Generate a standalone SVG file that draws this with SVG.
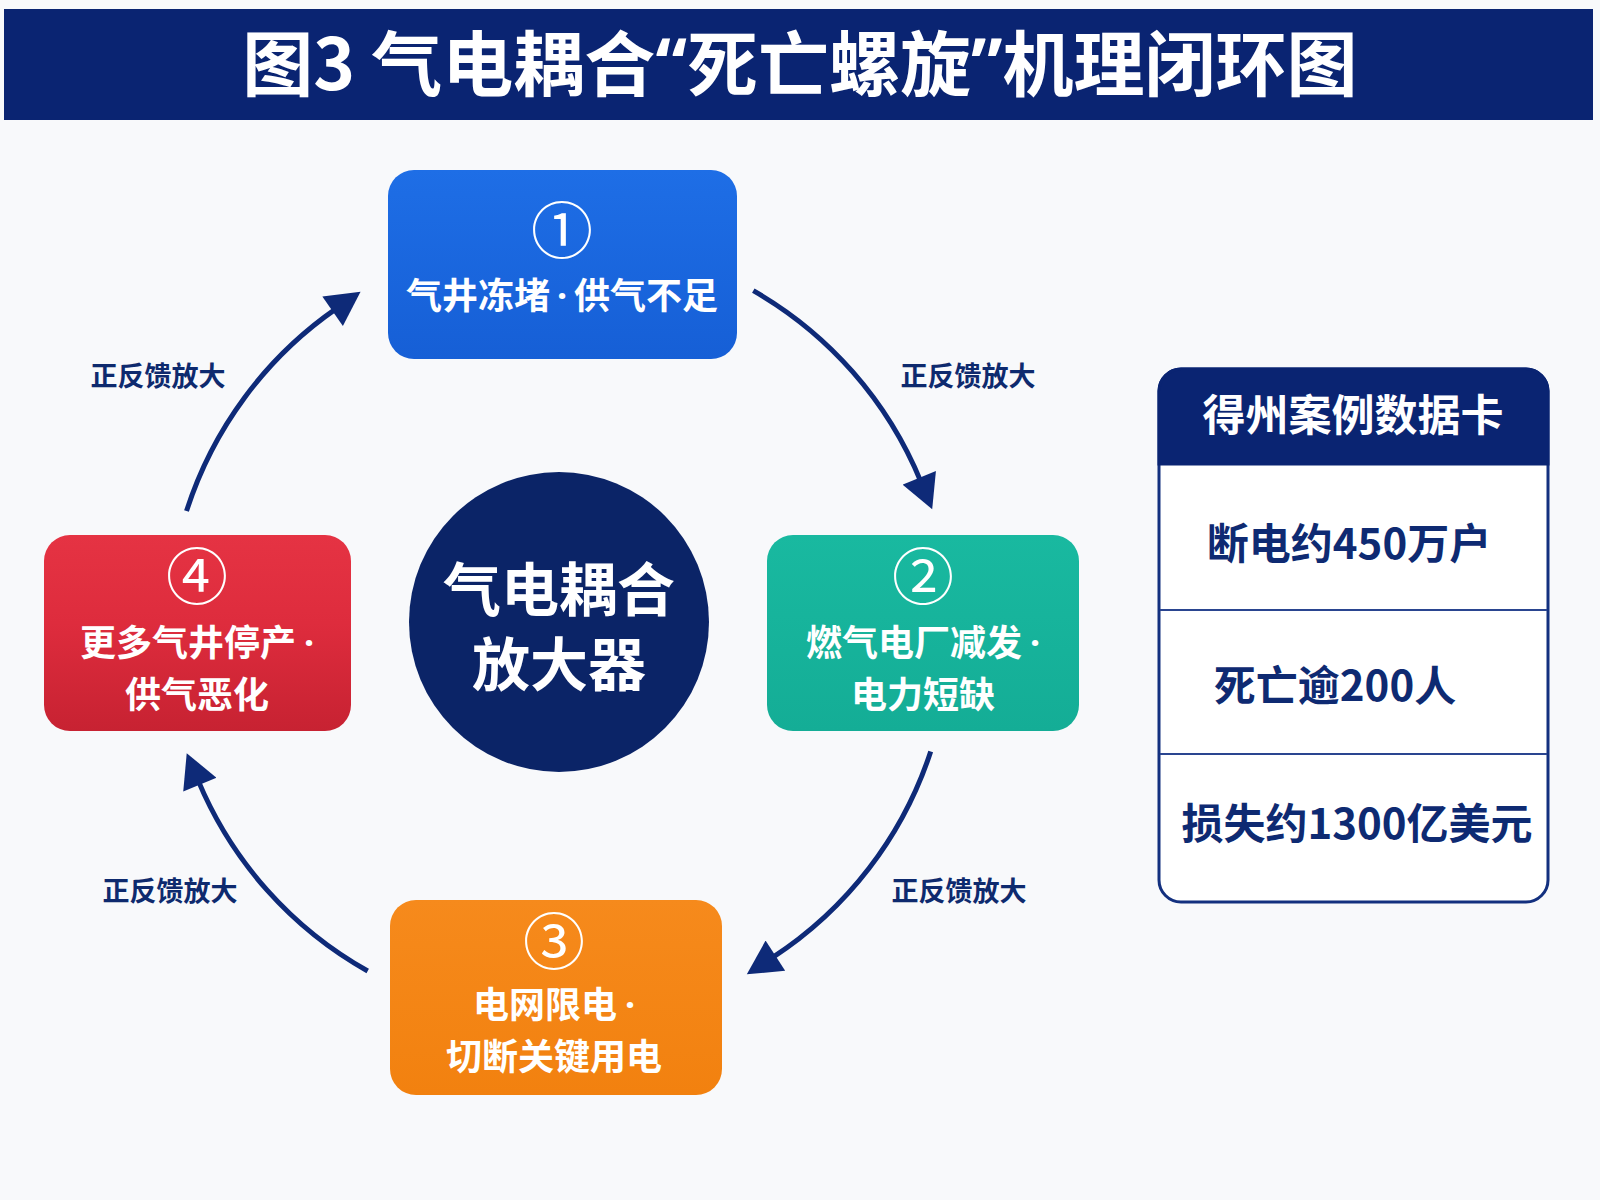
<svg xmlns="http://www.w3.org/2000/svg" width="1600" height="1200" viewBox="0 0 1600 1200">
<defs>
<style>
.cjk{font-family:"Noto Sans CJK SC","Noto Sans",sans-serif;}
.b{font-weight:700;}
.w{fill:#ffffff;}
.lat{font-family:"Noto Sans",sans-serif;}
.nodeText{font-family:"Noto Sans CJK SC","Noto Sans",sans-serif;font-weight:700;font-size:36px;fill:#ffffff;text-anchor:middle;}
.num{font-family:"Noto Sans CJK SC","Noto Sans",sans-serif;font-weight:400;font-size:62px;fill:#ffffff;text-anchor:middle;}
.lbl{font-family:"Noto Sans CJK SC","Noto Sans",sans-serif;font-weight:700;font-size:27px;fill:#0e2a6e;text-anchor:middle;}
.card{font-family:"Noto Sans CJK SC","Noto Sans",sans-serif;font-weight:700;font-size:42px;fill:#0e2a72;text-anchor:middle;}
.arc{fill:none;stroke:#0e2a78;stroke-width:5;stroke-linecap:butt;}
</style>
<linearGradient id="gBlue" x1="0" y1="0" x2="0" y2="1"><stop offset="0" stop-color="#1e6ee6"/><stop offset="1" stop-color="#165fd6"/></linearGradient>
<linearGradient id="gTeal" x1="0" y1="0" x2="0" y2="1"><stop offset="0" stop-color="#19b9a0"/><stop offset="1" stop-color="#14ad96"/></linearGradient>
<linearGradient id="gOrange" x1="0" y1="0" x2="0" y2="1"><stop offset="0" stop-color="#f68a1c"/><stop offset="1" stop-color="#f2810f"/></linearGradient>
<linearGradient id="gRed" x1="0" y1="0" x2="0" y2="1"><stop offset="0" stop-color="#e53343"/><stop offset="0.45" stop-color="#de2c3d"/><stop offset="1" stop-color="#c72232"/></linearGradient>
<marker id="ah" markerUnits="userSpaceOnUse" markerWidth="36" markerHeight="36" refX="4" refY="18" orient="auto" viewBox="0 0 34 36">
<path d="M0,0 L34,18 L0,36 Z" fill="#0e2a78"/>
</marker>
</defs>
<rect x="0" y="0" width="1600" height="1200" fill="#f8f9fb"/>
<g id="title">
<rect x="4" y="9" width="1589" height="111" fill="#0a2472"/>
<text x="800" y="90" class="cjk b w" font-size="71" text-anchor="middle">图3 气电耦合<tspan class="lat">“</tspan>死亡螺旋<tspan class="lat">”</tspan>机理闭环图</text>
</g>
<g id="connectors">
<path class="arc" d="M753.3,290.7 A391,391 0 0 1 920.8,481.6" marker-end="url(#ah)"/>
<path class="arc" d="M930.7,751.5 A391,391 0 0 1 772.0,957.9" marker-end="url(#ah)"/>
<path class="arc" d="M367.7,971.0 A391,391 0 0 1 198.3,780.9" marker-end="url(#ah)"/>
<path class="arc" d="M186.5,511.1 A391,391 0 0 1 335.9,308.9" marker-end="url(#ah)"/>
<text class="lbl" x="158" y="386">正反馈放大</text>
<text class="lbl" x="968" y="386">正反馈放大</text>
<text class="lbl" x="959" y="901">正反馈放大</text>
<text class="lbl" x="170" y="901">正反馈放大</text>
</g>
<g id="node1">
<rect x="388" y="170" width="349" height="189" rx="26" fill="url(#gBlue)"/>
<text class="num" x="562" y="254">①</text>
<text class="nodeText" x="562" y="309">气井冻堵<tspan class="lat" dx="7">·</tspan><tspan dx="7">供气不足</tspan></text>
</g>
<g id="node2">
<rect x="767" y="535" width="312" height="196" rx="26" fill="url(#gTeal)"/>
<text class="num" x="923" y="600">②</text>
<text class="nodeText" x="923" y="656">燃气电厂减发<tspan class="lat" dx="8">·</tspan></text>
<text class="nodeText" x="923" y="708">电力短缺</text>
</g>
<g id="node3">
<rect x="390" y="900" width="332" height="195" rx="26" fill="url(#gOrange)"/>
<text class="num" x="554" y="965">③</text>
<text class="nodeText" x="554" y="1018">电网限电<tspan class="lat" dx="8">·</tspan></text>
<text class="nodeText" x="554" y="1070">切断关键用电</text>
</g>
<g id="node4">
<rect x="44" y="535" width="307" height="196" rx="26" fill="url(#gRed)"/>
<text class="num" x="197" y="600">④</text>
<text class="nodeText" x="197" y="656">更多气井停产<tspan class="lat" dx="8">·</tspan></text>
<text class="nodeText" x="197" y="708">供气恶化</text>
</g>
<g id="center">
<circle cx="559" cy="622" r="150" fill="#0b2467"/>
<text class="cjk b w" x="559" y="611" font-size="58" text-anchor="middle">气电耦合</text>
<text class="cjk b w" x="559" y="686" font-size="58" text-anchor="middle">放大器</text>
</g>
<g id="datacard">
<rect x="1159" y="369" width="389" height="533" rx="22" fill="#ffffff" stroke="#13307f" stroke-width="3"/>
<path d="M1159,464 L1159,391 A22,22 0 0 1 1181,369 L1526,369 A22,22 0 0 1 1548,391 L1548,464 Z" fill="#0a2472" stroke="#0a2472" stroke-width="3"/>
<text class="cjk b w" x="1353" y="431" font-size="43" text-anchor="middle">得州案例数据卡</text>
<line x1="1160" y1="610" x2="1547" y2="610" stroke="#2a4590" stroke-width="2"/>
<line x1="1160" y1="754" x2="1547" y2="754" stroke="#2a4590" stroke-width="2"/>
<text class="card" x="1349" y="559">断电约450万户</text>
<text class="card" x="1335" y="701">死亡逾200人</text>
<text class="card" x="1357" y="839">损失约1300亿美元</text>
</g>
</svg>
